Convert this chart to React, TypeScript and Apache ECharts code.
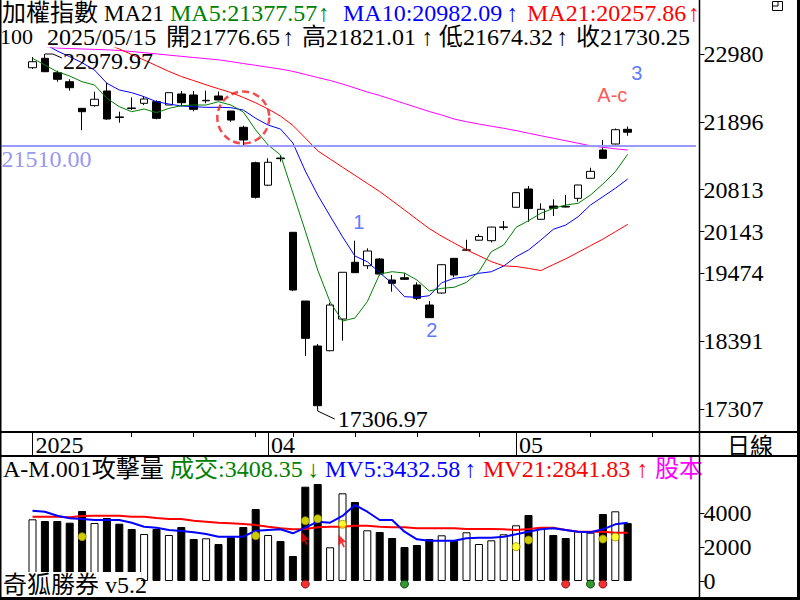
import React, { useEffect, useRef } from 'react';
import * as echarts from 'echarts';

// ---------- data ----------
const tradeDates = [
  '03/05','03/06','03/07','03/10','03/11','03/12','03/13','03/14','03/17','03/18',
  '03/19','03/20','03/21','03/24','03/25','03/26','03/27','03/28','03/31','04/01',
  '04/02','04/07','04/08','04/09','04/10','04/11','04/14','04/15','04/16','04/17',
  '04/18','04/21','04/22','04/23','04/24','04/25','04/28','04/29','04/30','05/02',
  '05/05','05/06','05/07','05/08','05/09','05/12','05/13','05/14','05/15'
];
const padBefore = ['03/03', '03/04'];
const padAfter = ['05/16', '05/19', '05/20', '05/21', '05/22'];
const weekTicks = ['03/17','03/24','03/31','04/07','04/14','04/21','04/28','05/12','05/19'];

const opens = [22761,22911,22681,22537,22112,22155,22389,21975,22118,22192,22218,22165,22341,22325,22232,22309,22069,21809,21243,20884,21318,20131,19033,18314,18239,18745,19652,19597,19704,19369,19405,19289,18969,19161,19715,19845,20005,19997,20210,20531,20823,20339,20551,20545,20674,20994,21446,21542,21776.65];
const closes = [22857,22697,22576,22442,22058,22257,21941,21965,22108,22261,21952,22362,22202,22096,22240,22245,21925,21606,20690,21250,21308,19209,18437,17360,18969,19492,19486,19832,19464,19316,19380,19076,18767,19613,19449,19850,20064,20214,20216,20764,20510,20499,20515,20535,20887,21105,21313,21770,21730.25];
const highs = [22932,22979.97,22713,22576,22112,22378,22521,22058,22288,22304,22240,22362,22389,22389,22394,22378,22069,21834,21260,21314,21366,20131,19033,18346,19006,19492,19997,19875,19720,19449,19476,19332,19033,19620,19720,20012,20101,20220,20312,20770,20871,20594,20658,20727,20890,21163,21606,21790,21821.01];
const lows = [22740,22692,22537,22394,21763,22139,21930,21882,22085,22165,21936,22165,22144,22064,22192,22240,21898,21526,20670,20870,21260,19190,18154,17306.97,18230,18399,19480,19544,19440,19182,19369,19049,18767,19150,19412,19832,20000,19970,20170,20525,20300,20330,20391,20530,20620,20990,21310,21535,21674.32];

const ma5 = [22911,22804,22697,22628,22537,22485,22272,22138,22058,22101,22042,22112,22154,22165,22165,22218,22165,22053,21766,21526,21366,20759,20152,19528,19017,18713,18761,19022,19464,19501,19480,19369,19193,19236,19252,19332,19501,19821,19928,20210,20317,20434,20514,20567,20594,20727,20903,21099,21377.57];
const ma10 = [23236,23140,23028,22937,22841,22724,22512,22405,22362,22298,22218,22181,22149,22138,22128,22128,22122,22085,21952,21845,21781,21558,21110,20727,20391,20060,19752,19661,19485,19316,19102,19092,19118,19325,19396,19421,19476,19501,19592,19741,19848,20008,20179,20247,20380,20567,20700,20834,20982.09];
const ma21 = [23427,23380,23332,23284,23236,23188,23140,23060,22972,22884,22793,22702,22620,22555,22488,22425,22365,22286,22200,22101,21988,21839,21638,21433,21302,21171,21042,20912,20783,20636,20487,20338,20190,20068,19960,19851,19757,19663,19594,19584,19554,19520,19615,19707,19811,19917,20022,20140,20257.86];
const maLong = [23124,23100,23076,23068,23060,23054,23047,23036,23020,23001,22982,22962,22943,22924,22905,22887,22859,22828,22799,22769,22740,22702,22654,22604,22557,22501,22437,22373,22317,22253,22189,22125,22061,22005,21941,21898,21861,21826,21793,21756,21714,21674,21634,21594,21554,21514,21489,21465,21446];

const volumes = [3629,3529,3529,3429,4118,3412,3706,3371,3059,2765,3059,2706,3176,2471,2512,2176,2571,3176,4235,2706,2353,1471,5547,5706,1982,5159,4647,2982,2882,2529,2000,2118,2471,2688,2353,2865,2176,2394,2747,3276,3882,3076,2706,2529,2941,2841,3941,4100,3408.35];
const mv5 = [4135,4076,3841,3688,3647,3588,3588,3588,3429,3194,3135,3000,2941,2865,2765,2606,2606,2606,2959,3000,3041,2806,3135,3488,3429,3824,4471,4076,3588,3588,2900,2453,2371,2371,2371,2512,2547,2547,2606,2747,2900,3041,3100,3000,2900,2865,3041,3335,3432.58];
const mv21 = [3782,3782,3782,3747,3824,3841,3841,3841,3782,3782,3706,3647,3647,3547,3488,3429,3394,3353,3294,3194,3100,3041,3059,3159,3194,3194,3253,3253,3194,3159,3159,3100,3100,3100,3100,3059,3059,3059,3041,3000,3059,3135,3135,3000,2900,2900,2900,2841,2841.83];

// bar number (1-based), value
const yellowDots = [[5,2606],[19,2665],[23,3547],[24,3665],[26,3335],[40,2018],[41,2412],[47,2471],[48,2588]];
const redArrows = [[23,2500],[26,2353]];
const redBottomDots = [23, 44, 47];
const greenBottomDots = [31, 46];
const bottomDotValue = -180;

const priceTicks = [17307, 18391, 19474, 20143, 20813, 21896, 22980];
const volTicks = [0, 2000, 4000];
const refLine = 21510;

// annotations: [bar number, price, text, color, dx]
const notes = [
  [27, 20303, '1', '#3355ff', 4],
  [33, 18562, '2', '#3355ff', 2.5],
  [49, 22684, '3', '#3355ff', 9],
  [48, 22317, 'A-c', '#ff2a2a', -3],
];
const circleNote = [18, 21965];

const SERIF = '"Liberation Serif", "Noto Sans CJK TC", serif';
const SANS = '"Liberation Sans", Arial, sans-serif';

export default function App() {
  const ref = useRef<HTMLDivElement>(null);
  useEffect(() => {
    const el = ref.current!;
    const chart = echarts.init(el, null, { renderer: 'svg' });

    const cats = [...padBefore, ...tradeDates, ...padAfter];
    const off = padBefore.length; // category index of first bar
    const idx = (bar: number) => bar - 1 + off;
    const monthIdx: number[] = [];
    tradeDates.forEach((d, i) => {
      if (i === 0 || d.slice(0, 2) !== tradeDates[i - 1].slice(0, 2)) monthIdx.push(i + off);
    });
    const monthLabel = (i: number) => (i === monthIdx[0] ? '2025' : cats[i].slice(0, 2));

    const candles = tradeDates.map((_, i) => [i + off, opens[i], closes[i], lows[i], highs[i]]);
    const line = (arr: number[]) => arr.map((v, i) => [i + off, v]);
    const volData = volumes.map((v, i) => ({
      value: [i + off, v],
      itemStyle: { color: closes[i] >= opens[i] ? '#ffffff' : '#000000', borderColor: '#000', borderWidth: 1 },
    }));

    const maSeries = (data: number[], color: string, width: number, xi: number, yi: number) => ({
      type: 'line', data: line(data), xAxisIndex: xi, yAxisIndex: yi, symbol: 'none',
      lineStyle: { color, width }, itemStyle: { color }, silent: true, z: 3,
    });

    const option: any = {
      animation: false,
      backgroundColor: '#ffffff',
      grid: [
        { left: 1.5, width: 694.4, top: 48, height: 384 },
        { left: 1.5, width: 694.4, top: 462, height: 136 },
      ],
      xAxis: [
        {
          type: 'category', gridIndex: 0, data: cats, position: 'bottom', boundaryGap: true,
          axisLine: { show: false },
          axisTick: { show: true, alignWithLabel: true, length: 5, interval: (_i: number, v: string) => weekTicks.includes(v), lineStyle: { color: '#000' } },
          axisLabel: { show: false }, splitLine: { show: false },
        },
        {
          type: 'category', gridIndex: 0, data: cats, position: 'bottom', boundaryGap: true,
          axisLine: { show: false },
          axisTick: { show: true, alignWithLabel: true, length: 23, interval: (i: number) => monthIdx.includes(i), lineStyle: { color: '#000' } },
          axisLabel: {
            show: true, interval: (i: number) => monthIdx.includes(i),
            formatter: (_v: string, i: number) => monthLabel(i),
            align: 'left', verticalAlign: 'top', padding: [0, 0, 0, 3], margin: 1,
            fontSize: 24, fontFamily: SERIF, color: '#000', lineHeight: 24,
          },
          splitLine: { show: false },
        },
        { type: 'category', gridIndex: 1, data: cats, boundaryGap: true, show: false },
      ],
      yAxis: [
        {
          type: 'value', gridIndex: 0, position: 'right', offset: 3.5, min: 16940, max: 23076, scale: true,
          axisLine: { show: false },
          axisTick: { show: true, length: 5, customValues: priceTicks, lineStyle: { color: '#000' } },
          axisLabel: { show: true, customValues: priceTicks, margin: 4, fontSize: 24, fontFamily: SERIF, color: '#000', formatter: (v: number) => String(Math.round(v)) },
          splitLine: { show: false },
        },
        {
          type: 'value', gridIndex: 1, position: 'right', offset: 3.5, min: -1000, max: 7000,
          axisLine: { show: false },
          axisTick: { show: true, length: 5, customValues: volTicks, lineStyle: { color: '#000' } },
          axisLabel: { show: true, customValues: volTicks, margin: 4, fontSize: 24, fontFamily: SERIF, color: '#000', formatter: (v: number) => String(Math.round(v)) },
          splitLine: { show: false },
        },
      ],
      series: [
        {
          type: 'candlestick', xAxisIndex: 0, yAxisIndex: 0, data: candles,
          encode: { x: 0, y: [1, 2, 3, 4] }, barWidth: 8, z: 2,
          itemStyle: { color: '#ffffff', color0: '#000000', borderColor: '#000000', borderColor0: '#000000', borderWidth: 1 },
          markLine: {
            silent: true, symbol: ['none', 'none'],
            lineStyle: { color: '#9999ff', width: 2, type: 'solid' },
            label: { show: true, position: 'insideStartBottom', formatter: refLine.toFixed(2), color: '#9999ee', fontSize: 24, fontFamily: SERIF, distance: [0, 1] },
            data: [{ yAxis: refLine }],
          },
        },
        maSeries(maLong, '#ff00ff', 1, 0, 0),
        maSeries(ma21, '#ff0000', 1, 0, 0),
        maSeries(ma10, '#0000ff', 1, 0, 0),
        maSeries(ma5, '#008000', 1, 0, 0),
        {
          type: 'scatter', xAxisIndex: 0, yAxisIndex: 0, symbolSize: 52, z: 5, silent: true,
          data: [[idx(circleNote[0]), circleNote[1]]],
          itemStyle: { color: 'rgba(0,0,0,0)', borderColor: '#ee2020', borderWidth: 2.5, borderType: [7, 4] },
        },
        {
          type: 'scatter', xAxisIndex: 0, yAxisIndex: 0, symbolSize: 1, z: 6, silent: true,
          itemStyle: { color: 'rgba(0,0,0,0)' },
          data: notes.map((n) => ({
            value: [idx(n[0] as number), n[1]],
            label: { show: true, position: 'inside', formatter: n[2] as string, color: n[3] as string, fontSize: 20, fontFamily: SANS, offset: [n[4] as number, 0] },
          })),
        },
        {
          type: 'bar', xAxisIndex: 2, yAxisIndex: 1, data: volData, barWidth: 8, z: 2,
        },
        maSeries(mv21, '#ff0000', 2, 2, 1),
        maSeries(mv5, '#0000ff', 2, 2, 1),
        {
          type: 'scatter', xAxisIndex: 2, yAxisIndex: 1, symbolSize: 8, z: 6, silent: true,
          data: yellowDots.map((d) => [idx(d[0]), d[1]]),
          itemStyle: { color: '#ffff00', borderColor: '#a09000', borderWidth: 1 },
        },
        {
          type: 'scatter', xAxisIndex: 2, yAxisIndex: 1, symbol: 'path://M0,0L0,14L3.5,10.5L6,16L8,15L5.5,9.5L10,9.5Z',
          symbolSize: [8, 13], z: 6, silent: true,
          data: redArrows.map((d) => [idx(d[0]), d[1]]),
          itemStyle: { color: '#ff0000' },
        },
        {
          type: 'scatter', xAxisIndex: 2, yAxisIndex: 1, symbolSize: 8, z: 6, silent: true,
          data: redBottomDots.map((b) => [idx(b), bottomDotValue]),
          itemStyle: { color: '#ee0000', borderColor: '#700000', borderWidth: 1 },
        },
        {
          type: 'scatter', xAxisIndex: 2, yAxisIndex: 1, symbolSize: 8, z: 6, silent: true,
          data: greenBottomDots.map((b) => [idx(b), bottomDotValue]),
          itemStyle: { color: '#008000', borderColor: '#003000', borderWidth: 1 },
        },
      ],
    };
    chart.setOption(option);

    // annotation anchors from the data
    let hiI = 0, loI = 0;
    highs.forEach((h, i) => { if (h > highs[hiI]) hiI = i; });
    lows.forEach((l, i) => { if (l < lows[loI]) loI = i; });
    const hp = chart.convertToPixel({ xAxisIndex: 0, yAxisIndex: 0 }, [hiI + off, highs[hiI]]) as number[];
    const lp = chart.convertToPixel({ xAxisIndex: 0, yAxisIndex: 0 }, [loI + off, lows[loI]]) as number[];

    const txt = (text: string, x: number, y: number, fill: string, size = 24, align = 'left', family = SERIF) => ({
      type: 'text', x, y, z: 100, silent: true,
      style: { text, fill, fontSize: size, fontFamily: family, align, verticalAlign: 'middle', lineHeight: 20 },
    });
    const ln = (x1: number, y1: number, x2: number, y2: number, w = 1) => ({
      type: 'line', z: 100, silent: true, shape: { x1, y1, x2, y2 }, style: { stroke: '#000', lineWidth: w },
    });
    const last = tradeDates.length - 1;
    const fmt = (v: number) => v.toFixed(2);

    const graphic: any[] = [
      // header row 1
      txt('加權指數', 2, 13, '#000'),
      txt('MA21', 104, 13, '#000', 23),
      txt('MA5:' + fmt(ma5[last]), 170, 13, '#008000'),
      txt('↑', 324, 13, '#008000', 24, 'center'),
      txt('MA10:' + fmt(ma10[last]), 343, 13, '#0000ff'),
      txt('↑', 512.5, 13, '#0000ff', 24, 'center'),
      txt('MA21:' + fmt(ma21[last]), 527, 13, '#ff0000'),
      txt('↑', 694, 13, '#ff0000', 24, 'center'),
      // header row 2
      txt('100', 0, 36.5, '#000', 22),
      txt('2025/' + tradeDates[last], 47, 36.5, '#000'),
      txt('開' + fmt(opens[last]), 166, 36.5, '#000'),
      txt('↑', 288.5, 36.5, '#000', 24, 'center'),
      txt('高' + fmt(highs[last]), 302, 36.5, '#000'),
      txt('↑', 427.5, 36.5, '#000', 24, 'center'),
      txt('低' + fmt(lows[last]), 439, 36.5, '#000'),
      txt('↑', 562.5, 36.5, '#000', 24, 'center'),
      txt('收' + fmt(closes[last]), 576, 36.5, '#000'),
      // high / low labels
      { type: 'polyline', z: 100, silent: true, shape: { points: [[hp[0], hp[1]], [hp[0] + 8, hp[1]], [hp[0] + 17, hp[1] + 4]] }, style: { stroke: '#000', lineWidth: 1, fill: null } },
      txt(fmt(highs[hiI]), hp[0] + 18, hp[1] + 6.5, '#000'),
      { type: 'polyline', z: 100, silent: true, shape: { points: [[lp[0], lp[1] - 1], [lp[0], lp[1] + 2], [lp[0] + 17, lp[1] + 10]] }, style: { stroke: '#000', lineWidth: 1, fill: null } },
      txt(fmt(lows[loI]), lp[0] + 20, lp[1] + 10, '#000'),
      // volume header
      txt('A-M.001攻擊量', 3, 469, '#000'),
      txt('成交:' + fmt(volumes[last]), 170, 469, '#008000'),
      txt('↓', 313.5, 469, '#008000', 24, 'center'),
      txt('MV5:' + fmt(mv5[last]), 325, 469, '#0000ff'),
      txt('↑', 470.5, 469, '#0000ff', 24, 'center'),
      txt('MV21:' + fmt(mv21[last]), 483, 469, '#ff0000'),
      txt('↑', 642.5, 469, '#ff0000', 24, 'center'),
      txt('股本', 655, 469, '#ff00ff'),
      // footer
      { type: 'rect', z: 99, silent: true, shape: { x: 0, y: 572, width: 141, height: 26 }, style: { fill: '#fff' } },
      txt('奇狐勝券 v5.2', 3, 585, '#000'),
      // right panel
      txt('日線', 750, 444, '#000', 23, 'center', '"Noto Sans CJK TC", sans-serif'),
      { type: 'rect', z: 100, silent: true, shape: { x: 772.5, y: 1.5, width: 10, height: 9 }, style: { fill: '#fff', stroke: '#000', lineWidth: 1 } },
      ln(772.5, 6, 778, 6), ln(778, 1.5, 778, 6),
      // frame
      ln(0.75, 0, 0.75, 600, 1.5),
      ln(699.5, 0, 699.5, 600, 1.5),
      ln(798.5, 0, 798.5, 600, 3),
      ln(0, 598.5, 800, 598.5, 3),
      ln(0, 432, 800, 432, 2),
      ln(0, 456, 800, 456, 2),
      { type: 'rect', z: 98, silent: true, shape: { x: 700, y: 0, width: 100, height: 47 }, style: { fill: '#fff' } },
    ];
    chart.setOption({ graphic });

    return () => chart.dispose();
  }, []);
  return <div ref={ref} style={{ position: 'absolute', left: 0, top: 0, width: 800, height: 600 }} />;
}
